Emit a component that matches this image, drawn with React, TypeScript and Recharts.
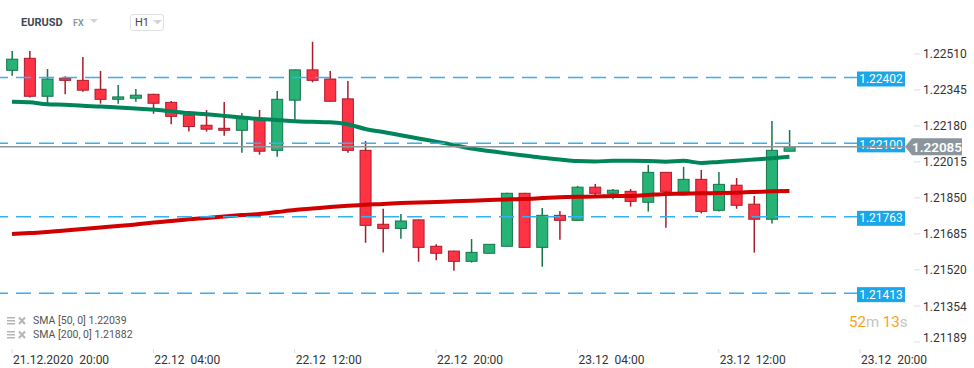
import { ComposedChart, Bar, Line, XAxis, YAxis, ReferenceLine } from 'recharts';

// EURUSD H1 candles, 21.12.2020 20:00 .. 23.12.2020 16:00
const opens = [
  1.22435, 1.2249, 1.22316, 1.22399, 1.22389, 1.22348, 1.22302, 1.22307, 1.22325, 1.22288,
  1.2223, 1.22183, 1.22169, 1.2216, 1.22215, 1.22068, 1.22298, 1.22437, 1.22395, 1.22304,
  1.22068, 1.21729, 1.2171, 1.21749, 1.21628, 1.21606, 1.21559, 1.21596, 1.21628, 1.21871,
  1.21623, 1.2177, 1.21747, 1.21899, 1.21871, 1.2188, 1.2183, 1.21967, 1.21876, 1.21935,
  1.21793, 1.21908, 1.21821, 1.21752, 1.22064,
];
const highs = [
  1.22524, 1.22524, 1.22441, 1.22408, 1.22496, 1.22432, 1.22368, 1.22349, 1.22327, 1.22294,
  1.22232, 1.22253, 1.2229, 1.22239, 1.22253, 1.2234, 1.22439, 1.22566, 1.22432, 1.22386,
  1.22111, 1.218, 1.21776, 1.21751, 1.21637, 1.21608, 1.21661, 1.21639, 1.21873, 1.21873,
  1.21804, 1.2179, 1.21905, 1.21914, 1.21891, 1.21891, 1.22001, 1.21969, 1.21992, 1.21978,
  1.21969, 1.21941, 1.21859, 1.22203, 1.22161,
];
const lows = [
  1.2241, 1.2231, 1.22282, 1.22325, 1.22337, 1.22282, 1.22282, 1.22291, 1.22236, 1.22188,
  1.22154, 1.22154, 1.22135, 1.22057, 1.22048, 1.22039, 1.22199, 1.2238, 1.22291, 1.22057,
  1.21644, 1.21599, 1.21663, 1.21557, 1.21564, 1.21516, 1.21553, 1.21594, 1.21626, 1.21621,
  1.21534, 1.21658, 1.21745, 1.21861, 1.21844, 1.2181, 1.21787, 1.21713, 1.21862, 1.21779,
  1.21787, 1.218, 1.21599, 1.21733, 1.22064,
];
const closes = [
  1.22486, 1.22316, 1.22395, 1.22389, 1.22344, 1.22302, 1.22313, 1.22321, 1.22284, 1.22224,
  1.22177, 1.22165, 1.2216, 1.22215, 1.22064, 1.22302, 1.22437, 1.22389, 1.22293, 1.22068,
  1.21724, 1.2171, 1.21744, 1.21623, 1.21596, 1.21559, 1.216, 1.21637, 1.21871, 1.21623,
  1.2177, 1.21747, 1.21899, 1.21871, 1.21885, 1.21834, 1.21967, 1.2188, 1.21935, 1.21788,
  1.21912, 1.21816, 1.21752, 1.22068, 1.22085,
];
const sma50 = [
  1.22291, 1.22288, 1.22279, 1.22277, 1.22272, 1.22269, 1.22264, 1.2226, 1.22255, 1.22247,
  1.22239, 1.22233, 1.22226, 1.22219, 1.22212, 1.22207, 1.22201, 1.22199, 1.22197, 1.22188,
  1.22166, 1.22152, 1.22137, 1.22122, 1.22108, 1.22093, 1.22076, 1.22065, 1.22054, 1.22044,
  1.22034, 1.22026, 1.22019, 1.22017, 1.2202, 1.2202, 1.22019, 1.22016, 1.2202, 1.2201,
  1.22015, 1.2202, 1.22026, 1.22032, 1.22039,
];
const sma200 = [
  1.21684, 1.21689, 1.21693, 1.217, 1.21707, 1.21714, 1.21721, 1.21728, 1.21737, 1.21744,
  1.21752, 1.21758, 1.21765, 1.21771, 1.21776, 1.21785, 1.21794, 1.21801, 1.21808, 1.21814,
  1.21819, 1.21822, 1.21826, 1.21829, 1.21831, 1.21834, 1.21837, 1.2184, 1.21843, 1.21845,
  1.21849, 1.21853, 1.21855, 1.21856, 1.21858, 1.21859, 1.21863, 1.21868, 1.21869, 1.21871,
  1.21872, 1.21874, 1.21877, 1.2188, 1.21882,
];

const xTickIdx = [0, 8, 16, 24, 32, 40, 48];
const xTickLabels = ['21.12.2020  20:00', '22.12  04:00', '22.12  12:00', '22.12  20:00', '23.12  04:00', '23.12  12:00', '23.12  20:00'];
const yTicks = [1.21189, 1.21354, 1.2152, 1.21685, 1.2185, 1.22015, 1.2218, 1.22345, 1.2251];
const levels = [1.22402, 1.221, 1.21763, 1.21413];
const lastPrice = 1.22085;

const data = opens.map((o, i) => ({
  i,
  o,
  h: highs[i],
  l: lows[i],
  c: closes[i],
  range: [lows[i], highs[i]],
  sma50: sma50[i],
  sma200: sma200[i],
}));

const UP = '#27b276';
const UP_EDGE = '#17754c';
const DOWN = '#ff3344';
const DOWN_EDGE = '#a81c2b';
const BLUE = '#1ba6ea';

function Candle(props: any) {
  const { x, y, width, height, payload } = props;
  if (!payload) return null;
  const { o, h, l, c } = payload;
  const top = Math.min(y, y + height);
  const k = Math.abs(height) / (h - l);
  const yOf = (v: number) => top + (h - v) * k;
  const up = c >= o;
  const bTop = yOf(Math.max(o, c));
  const bH = Math.max(1.5, yOf(Math.min(o, c)) - bTop);
  const cx = x + width / 2;
  return (
    <g>
      <line x1={cx} x2={cx} y1={top} y2={top + Math.abs(height)} stroke={up ? UP_EDGE : DOWN_EDGE} strokeWidth={1.5} />
      <rect x={x + 0.5} y={bTop} width={width - 1} height={bH} fill={up ? UP : DOWN} stroke={up ? UP_EDGE : DOWN_EDGE} strokeWidth={1} />
    </g>
  );
}

function XTick(props: any) {
  const { x, y, payload } = props;
  const idx = xTickIdx.indexOf(payload.value);
  return (
    <g>
      <line x1={x} x2={x} y1={y - 1} y2={y + 3} stroke="#dddddd" />
      <text x={x + 1} y={y + 14} textAnchor="start" fill="#333" fontSize={12} style={{ whiteSpace: 'pre' }}>
        {xTickLabels[idx]}
      </text>
    </g>
  );
}

function YTick(props: any) {
  const { x, y, payload } = props;
  const dy = payload.value === yTicks[0] ? -5 : 0;
  return (
    <g>
      <line x1={x + 1} x2={x + 7} y1={y} y2={y} stroke="#dddddd" />
      <text x={x + 10} y={y + 4.5 + dy} textAnchor="start" fill="#333" fontSize={12}>
        {payload.value.toFixed(5)}
      </text>
    </g>
  );
}

function BlueTag(props: any) {
  const { viewBox, value } = props;
  if (!viewBox) return null;
  const right = viewBox.x + viewBox.width;
  const cy = viewBox.y + 1;
  return (
    <g>
      <rect x={right - 48} y={cy - 7} width={48} height={15} fill={BLUE} />
      <text x={right - 24} y={cy + 4.5} textAnchor="middle" fill="#fff" fontSize={12}>
        {value.toFixed(5)}
      </text>
    </g>
  );
}

function PriceTag(props: any) {
  const { viewBox } = props;
  if (!viewBox) return null;
  const left = viewBox.x + viewBox.width;
  const cy = viewBox.y;
  return (
    <g>
      <path d={`M${left} ${cy} L${left + 7} ${cy - 8.5} L${left + 57} ${cy - 8.5} L${left + 57} ${cy + 8.5} L${left + 7} ${cy + 8.5} Z`} fill="#8b959b" />
      <text x={left + 32} y={cy + 5} textAnchor="middle" fill="#fff" fontSize={13.5} fontWeight={600}>
        {lastPrice.toFixed(5)}
      </text>
    </g>
  );
}

function LegendIcon() {
  return (
    <svg width={20} height={10} style={{ marginRight: 6 }}>
      <rect x={0} y={1} width={8} height={1.5} fill="#b5b5b5" />
      <rect x={0} y={4} width={8} height={1.5} fill="#b5b5b5" />
      <rect x={0} y={7} width={8} height={1.5} fill="#b5b5b5" />
      <path d="M12 1.5 L18 8 M18 1.5 L12 8" stroke="#b5b5b5" strokeWidth={2} />
    </svg>
  );
}

export default function App() {
  return (
    <div style={{ position: 'absolute', left: 0, top: 0, width: 974, height: 368, background: '#fff', fontFamily: 'Roboto, sans-serif', overflow: 'hidden' }}>
      <ComposedChart width={974} height={368} data={data} margin={{ top: 40, right: 0, bottom: 0, left: 0 }}>
        <XAxis
          dataKey="i"
          type="number"
          domain={[-0.68, 50.54]}
          ticks={xTickIdx}
          interval={0}
          tick={<XTick />}
          axisLine={false}
          tickLine={false}
          height={26}
          allowDataOverflow
        />
        <YAxis
          orientation="right"
          type="number"
          domain={[1.21189, 1.22574]}
          ticks={yTicks}
          interval={0}
          tick={<YTick />}
          axisLine={false}
          tickLine={false}
          width={69}
          allowDataOverflow
        />
        <Bar dataKey="range" barSize={12} shape={<Candle />} isAnimationActive={false} />
        <Line type="monotone" dataKey="sma200" stroke="#d10000" strokeWidth={4} dot={false} activeDot={false} isAnimationActive={false} />
        <Line type="monotone" dataKey="sma50" stroke="#00855a" strokeWidth={4} dot={false} activeDot={false} isAnimationActive={false} />
        {levels.map((v) => (
          <ReferenceLine
            key={v}
            y={v}
            stroke="#36b0ee"
            strokeWidth={1.5}
            strokeDasharray="15 8"
            label={(p: any) => <BlueTag viewBox={p.viewBox} value={v} />}
          />
        ))}
        <ReferenceLine y={lastPrice} stroke="#8b959b" strokeWidth={1.5} label={(p: any) => <PriceTag viewBox={p.viewBox} />} />
      </ComposedChart>

      <div style={{ position: 'absolute', left: 21, top: 16, fontSize: 11, fontWeight: 700, color: '#3d4953' }}>EURUSD</div>
      <div style={{ position: 'absolute', left: 73, top: 18, fontSize: 9, fontWeight: 700, color: '#8d99a3' }}>FX</div>
      <svg style={{ position: 'absolute', left: 90, top: 19 }} width={8} height={5}>
        <path d="M0 0 L8 0 L4 4 Z" fill="#cfd4d8" />
      </svg>
      <div style={{ position: 'absolute', left: 130, top: 14, width: 34, height: 17, border: '1px solid #dde1e4', borderRadius: 3, boxSizing: 'border-box' }} />
      <div style={{ position: 'absolute', left: 135, top: 16, fontSize: 11, color: '#444' }}>H1</div>
      <svg style={{ position: 'absolute', left: 153, top: 20 }} width={9} height={5}>
        <path d="M0 0 L9 0 L4.5 4.5 Z" fill="#cfd4d8" />
      </svg>

      <div style={{ position: 'absolute', left: 7, top: 315, fontSize: 10.5, color: '#555', display: 'flex', alignItems: 'center', lineHeight: '12px' }}>
        <LegendIcon />
        SMA [50, 0] 1.22039
      </div>
      <div style={{ position: 'absolute', left: 7, top: 329, fontSize: 10.5, color: '#555', display: 'flex', alignItems: 'center', lineHeight: '12px' }}>
        <LegendIcon />
        SMA [200, 0] 1.21882
      </div>

      <div style={{ position: 'absolute', left: 849, top: 313, fontSize: 15, lineHeight: '18px' }}>
        <span style={{ color: '#f7a21b' }}>52</span>
        <span style={{ color: '#c4c4c4' }}>m </span>
        <span style={{ color: '#f7a21b' }}>13</span>
        <span style={{ color: '#c4c4c4' }}>s</span>
      </div>
    </div>
  );
}
